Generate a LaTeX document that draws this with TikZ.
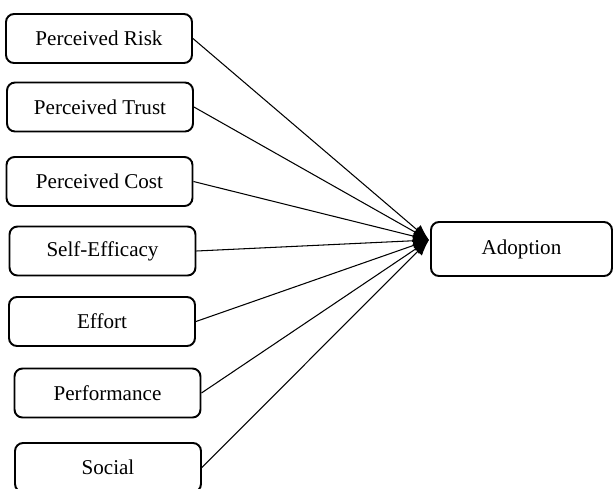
\documentclass[tikz,border=0pt]{standalone}
\usepackage{fontspec}
\setmainfont{Liberation Serif}
\usetikzlibrary{arrows.meta}

\begin{document}
\begin{tikzpicture}[x=0.02cm,y=-0.02cm,
	factor/.style={draw,rounded corners=0.16cm,line width=1.1pt,minimum width=3.72cm,minimum height=0.98cm,font=\fontsize{12}{14}\selectfont},
	link/.style={line width=0.6pt,-{Latex[length=0.32cm,width=0.24cm]}}]
	\useasboundingbox (0,0) rectangle (613,488);

	\node[factor] (risk) at (99,38.5)	{Perceived Risk};
	\node[factor] (trust) at (100,107)	{Perceived Trust};
	\node[factor] (cost) at (99.5,181.5)	{Perceived Cost};
	\node[factor] (efficacy) at (102.5,251)	{Self-Efficacy};
	\node[factor] (effort) at (102,321.5)	{Effort};
	\node[factor] (performance) at (107.5,393)	{Performance};
	\node[factor] (social) at (108,467.5)	{Social};
	\node[factor,minimum width=3.62cm,minimum height=1.08cm] (adoption) at (521.5,249)	{Adoption};
	\coordinate (hub) at (429,240);

	\path[link] (risk.east) edge (hub);
	\path[link] (trust.east) edge (hub);
	\path[link] (cost.east) edge (hub);
	\path[link] (efficacy.east) edge (hub);
	\path[link] (effort.east) edge (hub);
	\path[link] (performance.east) edge (hub);
	\path[link] (social.east) edge (hub);
\end{tikzpicture}
\end{document}
